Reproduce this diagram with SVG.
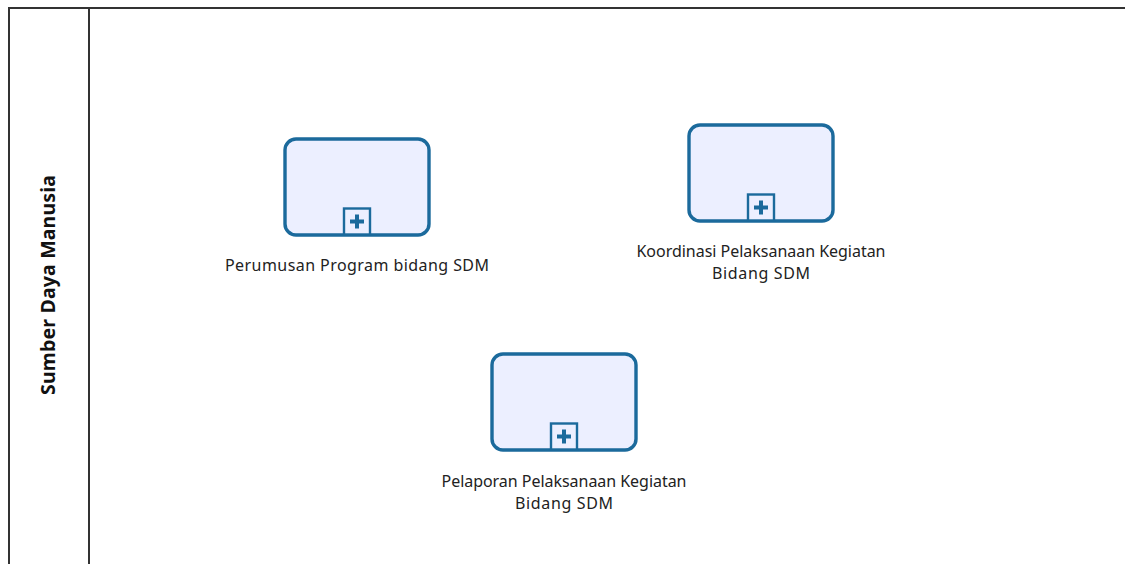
<svg xmlns="http://www.w3.org/2000/svg" width="1125" height="564" viewBox="0 0 1125 564">
<style>
.task{fill:#ecefff;stroke:#1b6a9c;stroke-width:3.4}
.mk{fill:#ecefff;stroke:#1b6a9c;stroke-width:2.4}
.plus{fill:#1b6a9c}
.lbl{font-family:"Noto Sans","Open Sans",sans-serif;font-size:16px;fill:#222;text-anchor:middle}
.pool{fill:none;stroke:#333;stroke-width:2}
.lane{font-family:"Noto Sans","Open Sans",sans-serif;font-size:19.5px;font-weight:bold;fill:#111;text-anchor:middle}
</style>
<defs>
<g id="marker">
<rect class="mk" x="-13" y="-26" width="26" height="26"/>
<path class="plus" d="M-2,-20h4v5h5v4h-5v5h-4v-5h-5v-4h5z"/>
</g>
</defs>
<g id="pool">
<path class="pool" d="M9,564V8H1125"/>
<line class="pool" x1="89" y1="8" x2="89" y2="564"/>
<text class="lane" transform="translate(55,285) rotate(-90)" textLength="220">Sumber Daya Manusia</text>
</g>
<g id="connectors"></g>
<g id="task1">
<rect class="task" x="285" y="139" width="144" height="96" rx="11"/>
<use href="#marker" x="357" y="234.5"/>
<text class="lbl" x="357" y="271" textLength="264">Perumusan Program bidang SDM</text>
</g>
<g id="task2">
<rect class="task" x="689" y="125" width="144" height="96" rx="11"/>
<use href="#marker" x="761" y="220.5"/>
<text class="lbl" x="761" y="257" textLength="249">Koordinasi Pelaksanaan Kegiatan</text>
<text class="lbl" x="761" y="279" textLength="98">Bidang SDM</text>
</g>
<g id="task3">
<rect class="task" x="492" y="354" width="144" height="96" rx="11"/>
<use href="#marker" x="564" y="449.5"/>
<text class="lbl" x="564" y="487" textLength="245">Pelaporan Pelaksanaan Kegiatan</text>
<text class="lbl" x="564" y="509" textLength="98">Bidang SDM</text>
</g>
</svg>
